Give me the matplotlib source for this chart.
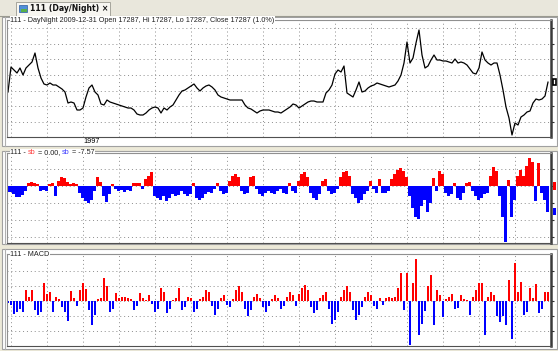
import numpy as np
import matplotlib
matplotlib.use('Agg')
import matplotlib.pyplot as plt
from matplotlib.patches import Rectangle
from matplotlib.lines import Line2D

W, H = 558, 351

# ---------------- data ----------------
price = [16300, 18800, 18500, 18200, 18700, 18000, 18700, 19000, 19300, 20200,
         18700, 17700, 17100, 17000, 17200, 17000, 17000, 16800, 16600, 16300,
         15200, 15300, 15200, 14500, 14500, 14700, 15800, 16700, 17000, 16300,
         16000, 15100, 15000, 15500, 15300, 15200, 15100, 15000, 14900, 14800,
         14700, 14700, 14500, 14100, 14000, 14000, 14200, 14500, 14700, 14800,
         14700, 14200, 14700, 14500, 14800, 15000, 15500, 16000, 16400, 16500,
         16700, 16900, 17100, 16700, 16400, 16700, 16900, 17000, 16800, 16500,
         16000, 15800, 15700, 15600, 15500, 15500, 15500, 15500, 15500, 15000,
         14700, 14600, 14400, 14200, 14400, 14500, 14500, 14500, 14400, 14300,
         14300, 14200, 14400, 14600, 14800, 15100, 15000, 14700, 14900, 15100,
         15300, 15400, 15400, 15300, 15300, 15300, 16200, 16500, 17000, 18100,
         18500, 18300, 18900, 16200, 16000, 15800, 16500, 17300, 16300, 16400,
         16700, 16900, 17000, 17200, 17100, 17000, 16900, 16800, 16900, 17000,
         17400, 18000, 19200, 21300, 19200, 19700, 21200, 22500, 20000, 18700,
         18900, 19500, 20000, 19500, 19500, 19400, 19400, 19300, 19200, 19600,
         19200, 19300, 19200, 19000, 18600, 18200, 18100, 18700, 20300, 19500,
         19200, 19000, 19200, 19200, 18000, 16500, 14800, 13700, 12000, 13200,
         13000, 13800, 14000, 14300, 14400, 15200, 15600, 15500, 15600, 15900,
         17287]

sb = [-1.8, -1.8, -2.5, -3.2, -3.2, -2.8, -1.5, 0.8, 1.2, 1.0,
      0.6, -1.5, -1.2, -1.5, 0.5, 0.8, -3.0, 1.5, 2.6, 2.2,
      1.2, 0.7, 0.8, 0.6, -2.0, -3.5, -4.5, -5.0, -4.0, -1.5,
      2.5, 1.2, -3.0, -4.7, -2.5, 0.5, -1.0, -1.5, -1.3, -1.8,
      -1.2, -1.5, 1.0, 0.8, 1.0, -0.8, 2.0, 3.0, 4.1, -3.0,
      -3.5, -4.0, -3.0, -4.5, -3.5, -2.5, -3.0, -2.8, -1.5, -2.5,
      -3.0, -2.5, 0.8, -3.5, -4.2, -3.5, -2.5, -1.8, -2.0, -1.0,
      0.8, -1.5, -2.5, -2.0, 1.5, 3.0, 3.5, 2.5, -1.5, -2.5,
      -2.0, 2.5, 3.0, -1.0, -2.5, -3.0, -2.0, -1.5, -2.0, -2.5,
      -1.5, -1.0, -2.0, -2.5, 1.0, -1.5, -2.0, 1.5, 3.5, 4.0,
      2.5, -2.0, -3.5, -4.0, -2.5, 1.5, 2.0, -1.5, -2.5, -2.0,
      -1.0, 2.5, 4.0, 4.5, 3.0, -2.5, -3.5, -5.0, -4.0, -2.5,
      -1.5, 1.5, -1.0, -2.0, 2.0, -2.0, -2.0, -1.5, 2.0, 3.5,
      4.8, 5.3, 4.5, 2.5, -3.0, -6.5, -9.0, -9.7, -6.0, -4.0,
      -7.6, -5.0, 2.2, -1.5, 4.4, 3.5, -2.0, -3.0, -2.5, 0.8,
      -3.5, -4.0, -2.0, 1.0, 1.2, -1.5, -3.0, -4.0, -3.5, -2.5,
      -2.0, 3.0, 5.6, 4.5, -3.0, -9.0, -16.5, 1.8, -9.0, -4.0,
      3.0, 4.7, 3.0, 6.0, 8.2, 7.0, -4.4, 6.8, -2.0, -4.0,
      -7.57]

macd = [-30, -50, -170, -150, -100, -140, 150, 60, 150, -120,
        -185, -150, 240, 100, 120, -140, 50, 30, -80, -150,
        -260, 140, 40, -60, 150, 235, 160, -120, -320, -180,
        30, 40, 306, 200, -140, -100, 110, 40, 58, 50,
        45, 30, -120, -60, 110, 40, 20, 80, -40, -150,
        -100, 170, 120, -160, -100, 20, 40, 170, -120, -80,
        50, 40, -140, -100, 30, 60, 150, 120, -60, -180,
        -100, 40, 80, -50, -80, 30, 150, 200, 120, -100,
        -200, -120, 60, 100, 40, -80, -150, -60, 30, 80,
        40, -100, -60, 50, 120, 80, -60, 100, 180, 220,
        150, -80, -160, -120, 40, 80, 120, -100, -300, -250,
        -150, 60, 150, 200, 120, -120, -250, -180, -80, 60,
        120, 80, -60, -100, 40, -50, 40, 50, 40, 60,
        170, 370, -120, 370, -586, 240, 560, -450, -300, -130,
        200, 345, -320, 150, 80, -210, 30, 60, 100, -100,
        -90, 80, 30, 20, -190, 60, 150, 235, 240, -450,
        60, 124, 80, -200, -275, -200, -320, 280, -510, 506,
        120, 250, -186, -150, 170, 40, 225, -155, -100, 124,
        124]

year_label = '1997'
year_pos = 28
title1 = '111 - DayNight 2009-12-31 Open 17287, Hi 17287, Lo 17287, Close 17287 (1.0%)'
tab_title = '111 (Day/Night) \u00d7'

# ---------------- figure ----------------
BEIGE = '#ECE9D8'
GRID = '#8c8c8c'
FONT = 'Liberation Sans'
plt.rcParams['font.family'] = [FONT, 'DejaVu Sans']
TFS = 5.2

fig = plt.figure(figsize=(W / 100, H / 100), dpi=100)
fig.patch.set_facecolor(BEIGE)


def frect(x0, y0, x1, y1, z=-5, **kw):
    fig.patches.append(Rectangle((x0 / W, 1 - y1 / H), (x1 - x0) / W, (y1 - y0) / H,
                                 transform=fig.transFigure, zorder=z, **kw))


def fline(xs, ys, z=-4, **kw):
    fig.lines.append(Line2D([x / W for x in xs], [1 - y / H for y in ys],
                            transform=fig.transFigure, zorder=z, **kw))


def px_axes(x0, y0, x1, y1):
    return fig.add_axes([x0 / W, 1 - y1 / H, (x1 - x0) / W, (y1 - y0) / H])


# tab bar
frect(0, 0, W, 16, facecolor='#E9E7DC', edgecolor='none')
fline([0, W], [15.5, 15.5], color='#9a9a90', lw=0.8)
frect(16, 2, 110, 16, z=-3, facecolor='#F7F6F1', edgecolor='#9a9a90', lw=0.6)
frect(19.5, 5, 27.5, 12, z=-2, facecolor='#4f8fd8', edgecolor='#2a5aa0', lw=0.5)
frect(20.5, 9, 26.5, 11.5, z=-1, facecolor='#58b04a', edgecolor='none')
fig.text(30 / W, 1 - 8.8 / H, tab_title, fontsize=5.6, fontweight='bold',
         family='DejaVu Sans', va='center', ha='left', color='#111111')

# panel backgrounds
for (y0, y1) in [(17, 146), (151, 244), (249, 349)]:
    frect(1.5, y0, 556.5, y1, facecolor='white', edgecolor='#a0a0a0', lw=0.8)
    fline([4.5, 4.5], [y0, y1], color='#b0b0b0', lw=0.8)

N = len(price)
x = np.arange(N)
xlim = (-0.33, 181)
vgrid = np.arange(1, N, 12)

ax1 = px_axes(7, 20, 551, 137)
ax2 = px_axes(7, 153, 551, 243)
ax3 = px_axes(7, 254, 551, 346)

for ax in (ax1, ax2, ax3):
    ax.set_facecolor('white')
    ax.set_xlim(*xlim)
    ax.set_xticks(vgrid)
    ax.tick_params(axis='x', length=0, labelbottom=False)
    ax.yaxis.tick_right()
    ax.tick_params(axis='y', length=2.5, width=0.8, color='#303030', labelright=False,
                   direction='out')
    ax.grid(True, color=GRID, lw=0.7, linestyle=(0, (1, 3)))
    ax.set_axisbelow(True)
    ax.spines['right'].set_color('#3a3a3a')
    ax.spines['right'].set_linewidth(1.8)
    ax.spines['left'].set_color('#909090')
    ax.spines['left'].set_linewidth(0.8)
    ax.spines['top'].set_color('#909090')
    ax.spines['top'].set_linewidth(0.8)
    ax.spines['bottom'].set_color('#505050')
    ax.spines['bottom'].set_linewidth(0.8)

# panel 1: price
ax1.plot(x, price, color='black', lw=0.9)
ax1.set_ylim(11800, 23500)
ax1.set_yticks(np.linspace(13300, 22700, 7))
ax1.set_xticks([year_pos], minor=True)
ax1.set_xticklabels([year_label], minor=True)
ax1.tick_params(axis='x', which='minor', length=0, labelbottom=True, labelsize=5.2, pad=0.8)
ax1.annotate(' ', xy=(1.0, price[-1]), xycoords=('axes fraction', 'data'),
             xytext=(2, 0), textcoords='offset points', va='center', fontsize=4,
             annotation_clip=False,
             bbox=dict(boxstyle='square,pad=0.15', fc='white', ec='black', lw=1.2))
ax1.text(0.006, 1.0, title1, transform=ax1.transAxes, fontsize=TFS, va='center', ha='left',
         color='#202020', bbox=dict(boxstyle='square,pad=0.05', fc='white', ec='none'))

# panel 2: sb histogram
sbv = np.array(sb)
ax2.bar(x, sbv, width=1.0, color=np.where(sbv >= 0, '#FF0000', '#0000FF'), linewidth=0)
ax2.set_ylim(-16.8, 9.7)
ax2.set_yticks([-15, -10, -5, 0, 5])
ax2.annotate(' ', xy=(1.0, 0), xycoords=('axes fraction', 'data'), xytext=(2, 0),
             textcoords='offset points', va='center', fontsize=4, annotation_clip=False,
             bbox=dict(boxstyle='square,pad=0.2', fc='#FF0000', ec='none'))
ax2.annotate(' ', xy=(1.0, sbv[-1]), xycoords=('axes fraction', 'data'), xytext=(2, 0),
             textcoords='offset points', va='center', fontsize=4, annotation_clip=False,
             bbox=dict(boxstyle='square,pad=0.2', fc='#0000FF', ec='none'))
t = ax2.text(0.006, 1.0, '111 - ', transform=ax2.transAxes, fontsize=TFS, va='center',
             ha='left', color='#202020', bbox=dict(boxstyle='square,pad=0.05', fc='white', ec='none'))
parts = [('sb', '#FF4040'), (' = 0.00, ', '#202020'), ('sb', '#4040FF'),
         (' = %.2f' % sbv[-1], '#202020')]
fig.canvas.draw()
prev = t
for s, c in parts:
    prev = ax2.annotate(s, xycoords=prev, xy=(1, 0), va='bottom', ha='left', fontsize=TFS,
                        color=c, annotation_clip=False,
                        bbox=dict(boxstyle='square,pad=0.05', fc='white', ec='none'))

# panel 3: MACD histogram
mv = np.array(macd)
ax3.bar(x, mv, width=0.9, color=np.where(mv >= 0, '#FF0000', '#0000FF'), linewidth=0)
ax3.set_ylim(-600, 627)
ax3.set_yticks([-400, -200, 0, 200, 400])
ax3.text(0.006, 1.0, '111 - MACD', transform=ax3.transAxes, fontsize=TFS, va='center',
         ha='left', color='#202020', bbox=dict(boxstyle='square,pad=0.05', fc='white', ec='none'))

fig.savefig('out.png', dpi=100, facecolor=fig.get_facecolor())
